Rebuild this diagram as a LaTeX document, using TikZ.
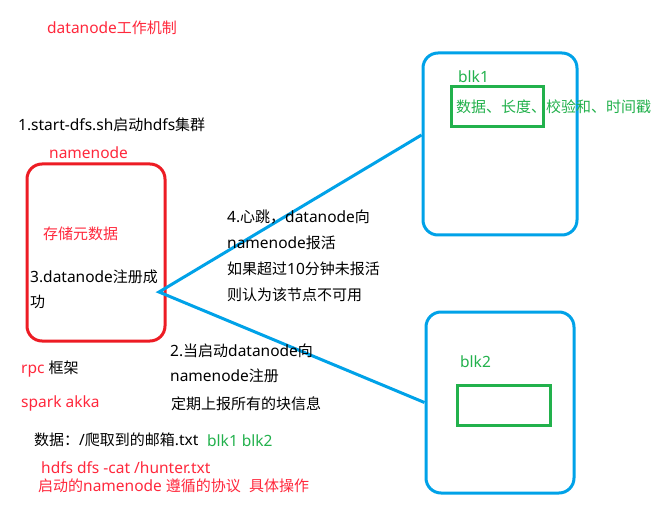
\documentclass[tikz,border=0pt]{standalone}
\usepackage{fontspec}
\setmainfont{Noto Sans}
\newfontfamily\cjkfam{Noto Sans CJK SC}
\newcommand\zh[1]{{\cjkfam\fontsize{15}{16}\selectfont #1}}
\definecolor{pred}{RGB}{237,28,36}
\definecolor{tred}{RGB}{255,40,60}
\definecolor{pblue}{RGB}{0,162,232}
\definecolor{pgreen}{RGB}{34,177,76}
\tikzset{
  txt/.style={anchor=west,inner sep=0pt,font=\fontsize{15.5}{16}\selectfont},
  redtxt/.style={txt,text=tred},
  greentxt/.style={txt,text=pgreen},
  redbox/.style={draw=pred,line width=3pt,rounded corners=15pt},
  bluebox/.style={draw=pblue,line width=3pt,rounded corners=15pt},
  greenbox/.style={draw=pgreen,line width=3pt},
  link/.style={draw=pblue,line width=3pt}
}
\begin{document}
\begin{tikzpicture}[x=1pt,y=-1pt]
\useasboundingbox[fill=white] (0,0) rectangle (664,513);
% boxes
\draw[redbox] (27,164) rectangle (165,341);
\node[bluebox,minimum width=154pt,minimum height=182pt] (b1) at (500,144) {};
\node[bluebox,minimum width=148pt,minimum height=181pt] (b2) at (500,402.5) {};
\node[greenbox,minimum width=92pt,minimum height=40pt] (g1) at (497,107) {};
\node[greenbox,minimum width=93pt,minimum height=40pt] (g2) at (503.5,405) {};
\coordinate (apex) at (159,292);
\draw[link] ([yshift=9pt]b1.west) -- (apex) -- (b2.west);
% texts
\node[redtxt] (title) at (47,28) {datanode\zh{工作机制}};
\node[txt] (s1) at (18,125) {1.start-dfs.sh\zh{启动}hdfs\zh{集群}};
\node[redtxt] (nn) at (49,153) {namenode};
\node[redtxt] (meta) at (43,234) {\zh{存储元数据}};
\node[txt] (s3a) at (30,277) {3.datanode\zh{注册成}};
\node[txt] (s3b) at (30,302) {\zh{功}};
\node[txt] (s4a) at (227,217) {4.\zh{心跳，}datanode\zh{向}};
\node[txt] (s4b) at (227,243) {namenode\zh{报活}};
\node[txt] (s4c) at (227,269) {\zh{如果超过}10\zh{分钟未报活}};
\node[txt] (s4d) at (227,295) {\zh{则认为该节点不可用}};
\node[txt] (s2a) at (170,351) {2.\zh{当启动}datanode\zh{向}};
\node[txt] (s2b) at (170,376) {namenode\zh{注册}};
\node[txt] (s2c) at (171,404) {\zh{定期上报所有的块信息}};
\node[txt] (rpc) at (21,369) {\textcolor{tred}{rpc} \zh{框架}};
\node[redtxt] (akka) at (21,403) {spark akka};
\node[txt] (data) at (34,440) {\zh{数据：}/\zh{爬取到的邮箱}.txt};
\node[greentxt] (blks) at (207,441) {blk1 blk2};
\node[redtxt] (cat) at (41,468) {hdfs dfs -cat /hunter.txt};
\node[redtxt] (proto) at (38,486) {\zh{启动的}namenode \zh{遵循的协议}\ \ \zh{具体操作}};
\node[greentxt] (blk1) at (458,77) {blk1};
\node[greentxt] (blk1d) at (456,107) {\zh{数据、长度、校验和、时间戳}};
\node[greentxt] (blk2) at (460,362) {blk2};
\end{tikzpicture}
\end{document}
